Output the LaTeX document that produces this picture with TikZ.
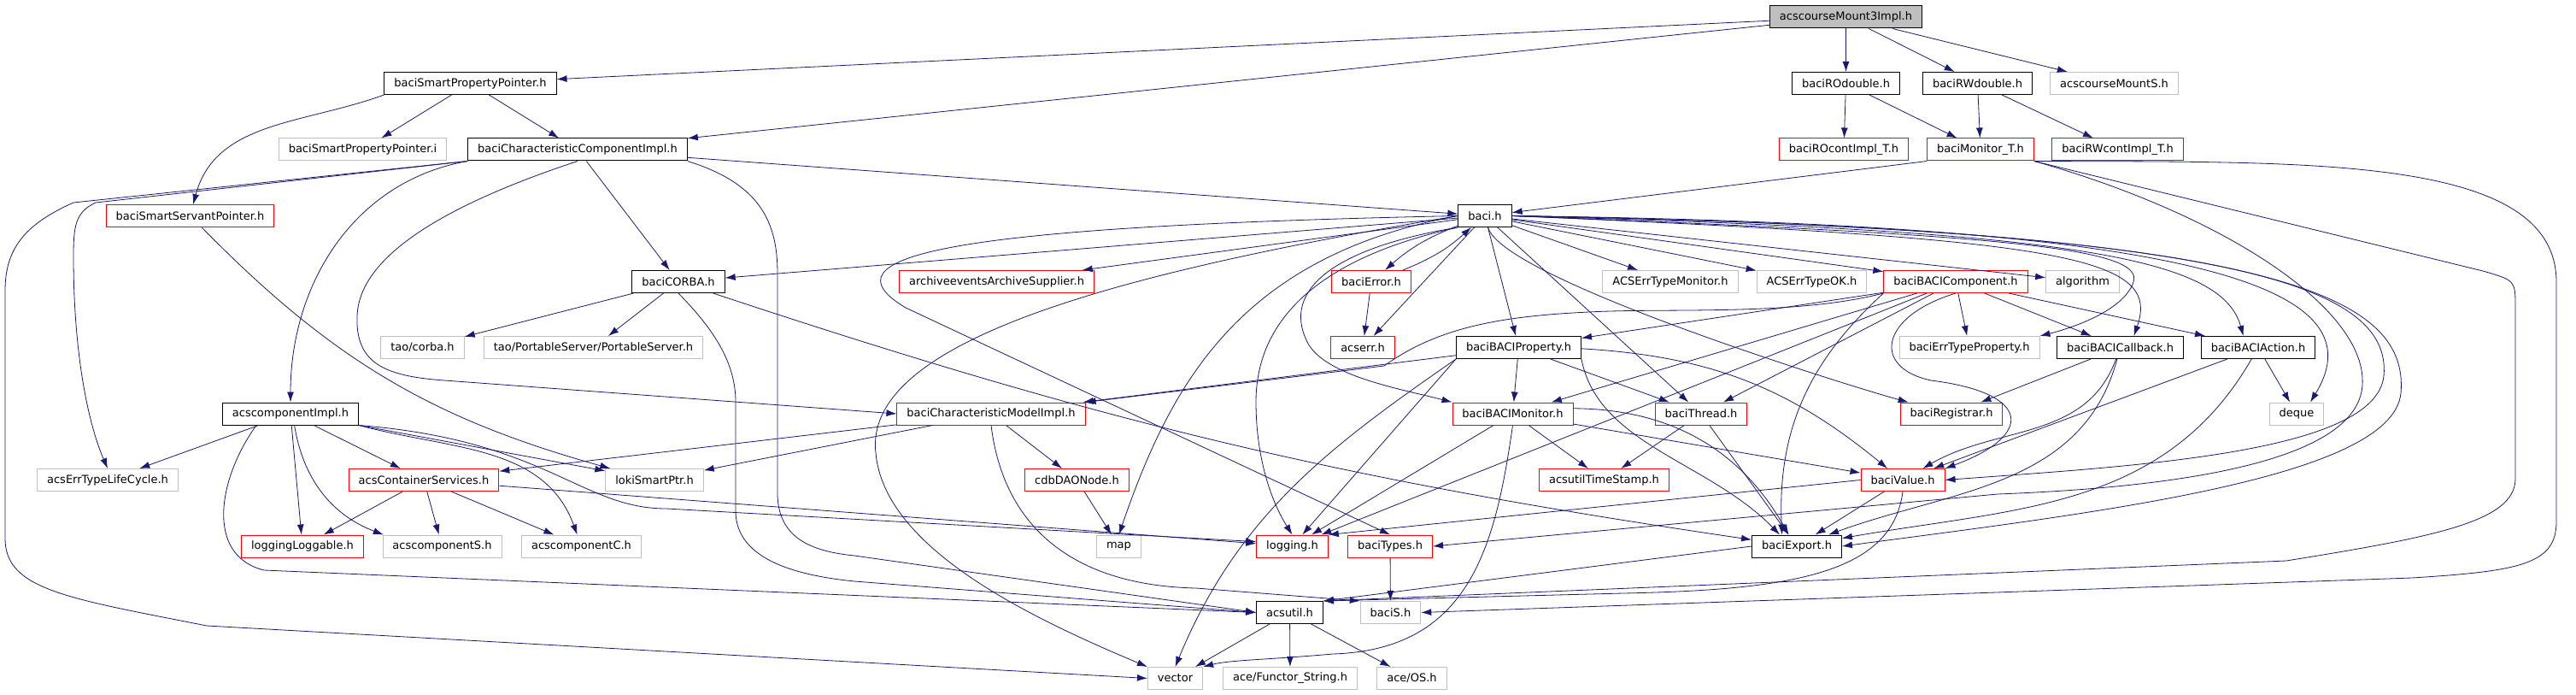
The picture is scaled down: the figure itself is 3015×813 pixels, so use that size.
\documentclass[tikz,border=0pt]{standalone}
\usepackage{fontspec}
\setmainfont{DejaVu Sans}
\usetikzlibrary{arrows.meta}
\definecolor{edgeblue}{HTML}{191970}
\definecolor{boxgrey}{HTML}{BFBFBF}

\begin{document}
\begin{tikzpicture}[x=0.75pt,y=0.75pt,->,>={Latex[length=9pt,width=6pt]},
  header/.style={rectangle,draw=black,line width=0.75pt,inner xsep=8.6pt,inner ysep=0pt,
    minimum height=19.5pt,font=\fontsize{9.75}{11}\selectfont},
  nodoc/.style={header,draw=red},
  extern/.style={header,draw=boxgrey},
  current/.style={header,fill=boxgrey},
  link/.style={draw=edgeblue,line width=0.6pt},
  every edge/.style={link}]
\useasboundingbox (0,0) rectangle (3015,-813);

\node[current] (mount3impl) at (2160.5,-20) {acscourseMount3Impl.h};
\node[header] (smartprop) at (550.5,-97.5) {baciSmartPropertyPointer.h};
\node[header] (rodouble) at (2160.5,-97.5) {baciROdouble.h};
\node[header] (rwdouble) at (2314.5,-97.5) {baciRWdouble.h};
\node[extern] (mounts) at (2474.5,-97.5) {acscourseMountS.h};
\node[extern] (smartpropi) at (424.5,-175) {baciSmartPropertyPointer.i};
\node[header] (charcomp) at (676,-175) {baciCharacteristicComponentImpl.h};
\node[nodoc] (rocont) at (2158,-175) {baciROcontImpl\_T.h};
\node[nodoc] (monitort) at (2318,-175) {baciMonitor\_T.h};
\node[nodoc] (rwcont) at (2478.5,-175) {baciRWcontImpl\_T.h};
\node[nodoc] (smartserv) at (222.5,-252.5) {baciSmartServantPointer.h};
\node[header] (baci) at (1738,-252.5) {baci.h};
\node[header] (corba) at (794,-329.5) {baciCORBA.h};
\node[nodoc] (archive) at (1166.5,-329.5) {archiveeventsArchiveSupplier.h};
\node[nodoc] (error) at (1605,-329.5) {baciError.h};
\node[extern] (errmon) at (1955,-329.5) {ACSErrTypeMonitor.h};
\node[extern] (errok) at (2120.5,-329.5) {ACSErrTypeOK.h};
\node[nodoc] (bacicomp) at (2289,-329.5) {baciBACIComponent.h};
\node[extern] (algorithm) at (2437.5,-329.5) {algorithm};
\node[extern] (taocorba) at (494.5,-406.5) {tao/corba.h};
\node[extern] (portserv) at (694.5,-406.5) {tao/PortableServer/PortableServer.h};
\node[nodoc] (acserr) at (1595,-406.5) {acserr.h};
\node[header] (baciprop) at (1777.5,-406.5) {baciBACIProperty.h};
\node[extern] (errprop) at (2305,-406.5) {baciErrTypeProperty.h};
\node[header] (callback) at (2481.5,-406.5) {baciBACICallback.h};
\node[header] (action) at (2643,-406.5) {baciBACIAction.h};
\node[header] (compimpl) at (340,-484) {acscomponentImpl.h};
\node[nodoc] (charmodel) at (1160,-484) {baciCharacteristicModelImpl.h};
\node[nodoc] (bacimon) at (1770.5,-484) {baciBACIMonitor.h};
\node[nodoc] (thread) at (1991,-484) {baciThread.h};
\node[nodoc] (registrar) at (2284,-484) {baciRegistrar.h};
\node[extern] (deque) at (2688,-484) {deque};
\node[extern] (lifecycle) at (126,-561.5) {acsErrTypeLifeCycle.h};
\node[nodoc] (contsvc) at (496,-561.5) {acsContainerServices.h};
\node[extern] (loki) at (766,-561.5) {lokiSmartPtr.h};
\node[nodoc] (daonode) at (1260.5,-561.5) {cdbDAONode.h};
\node[nodoc] (timestamp) at (1877.5,-561.5) {acsutilTimeStamp.h};
\node[nodoc] (value) at (2227,-561.5) {baciValue.h};
\node[nodoc] (loggable) at (354,-639) {loggingLoggable.h};
\node[extern] (compS) at (517.5,-639) {acscomponentS.h};
\node[extern] (compC) at (680.5,-639) {acscomponentC.h};
\node[extern] (map) at (1309.5,-639) {map};
\node[nodoc] (logging) at (1512.5,-639) {logging.h};
\node[nodoc] (types) at (1627,-639) {baciTypes.h};
\node[header] (export) at (2103,-639) {baciExport.h};
\node[header] (acsutil) at (1509.5,-716.5) {acsutil.h};
\node[extern] (bacis) at (1627.5,-716.5) {baciS.h};
\node[extern] (vector) at (1375.5,-793.5) {vector};
\node[extern] (functor) at (1510,-793.5) {ace/Functor\_String.h};
\node[extern] (aceos) at (1652.5,-793.5) {ace/OS.h};

% top rows
\path (mount3impl) edge (smartprop) edge (charcomp) edge (rodouble) edge (rwdouble) edge (mounts);
\path (smartprop) edge (smartpropi) edge (charcomp)
      (smartprop.south west) edge[out=200,in=75] (smartserv);
\path (smartserv) edge[bend right=15] (loki);
\path (rodouble) edge (rocont) edge (monitort);
\path (rwdouble) edge (monitort) edge (rwcont);
\path (monitort.south west) edge (baci);
\draw[link] (monitort.south east) .. controls (2700,-190) and (2992,-180) .. (2992,-330) -- (2992,-610)
  .. controls (2992,-660) and (2950,-668) .. (2823,-676) -- (bacis.east);
\draw[link] (monitort.south east) -- (2906,-317) .. controls (2944,-328) .. (2944,-360) -- (2944,-560)
  .. controls (2944,-610) and (2850,-628) .. (2676,-656) -- (acsutil.north east);
\draw[link] (monitort.south east) .. controls (2600,-250) and (2770,-360) .. (2765,-450)
  .. controls (2760,-540) and (2550,-570) .. (2338,-578) -- (types.east);

% baciCharacteristicComponentImpl.h
\path (charcomp) edge (baci) edge (corba)
      (charcomp.south west) edge[out=190,in=90] (compimpl);
\draw[link] (charcomp.south west) -- (86,-237) .. controls (30,-262) and (6,-290) .. (6,-340) -- (6,-630)
  .. controls (6,-690) and (80,-700) .. (242,-732) -- (vector.west);
\draw[link] (charcomp.south west) -- (112,-237) .. controls (88,-248) and (86,-265) .. (86,-300)
  .. controls (86,-420) and (105,-500) .. (lifecycle.north);
\draw[link] (charcomp.south) .. controls (520,-240) and (420,-300) .. (418,-370)
  .. controls (416,-425) and (450,-440) .. (520,-445) -- (charmodel.west);
\draw[link] (charcomp.south east) .. controls (890,-215) and (910,-260) .. (910,-320) -- (910,-580)
  .. controls (912,-630) and (950,-645) .. (1000,-650) -- (acsutil.west);

% baciCORBA.h
\path (corba) edge (taocorba) edge (portserv) edge[bend right=5] (export);
\draw[link] (corba.south) .. controls (830,-380) and (861,-420) .. (861,-470) -- (861,-600)
  .. controls (863,-650) and (920,-672) .. (1000,-680) -- (acsutil.west);

% acscomponentImpl.h
\path (compimpl) edge (lifecycle) edge (loggable) edge[bend right=30] (compS) edge (contsvc)
      (compimpl.south east) edge[out=-15,in=110] (compC) edge (loki);
\draw[link] ([xshift=-30pt]compimpl.south) .. controls (255,-560) and (240,-650) .. (309,-667) -- (acsutil.west);
\draw[link] (compimpl.south east) .. controls (640,-515) and (680,-595) .. (780,-595) -- ([yshift=4pt]logging.west);
\path (contsvc) edge (loggable) edge (compS) edge (compC) edge (logging);

% baciCharacteristicModelImpl.h
\path (charmodel) edge (contsvc) edge (loki) edge (daonode);
\draw[link] (charmodel.south) .. controls (1175,-620) and (1260,-685) .. (1400,-688) -- (bacis.north west);
\path (daonode) edge (map);

% baci.h
\path (baci) edge (corba) edge (archive) edge[bend right=10] (error) edge (acserr) edge (baciprop)
             edge (errmon) edge (errok) edge (bacicomp) edge (algorithm) edge (thread)
             edge[out=-75,in=165,looseness=0.3] (registrar);
\path (error) edge[bend right=10] (baci) edge (acserr);
\draw[link] (baci.east) .. controls (2350,-275) and (2510,-290) .. (2497,-330)
  .. controls (2485,-365) and (2420,-385) .. (errprop.north east);
\draw[link] (baci.east) .. controls (2420,-280) and (2530,-300) .. ([xshift=12pt]callback.north);
\draw[link] (baci.east) .. controls (2420,-270) and (2600,-300) .. ([xshift=-13pt]action.north);
\draw[link] (baci.east) .. controls (2550,-262) and (2790,-330) .. ([xshift=12pt]deque.north);
\draw[link] (baci.east) .. controls (2600,-268) and (2800,-330) .. (2790,-440)
  .. controls (2780,-530) and (2500,-545) .. (value.east);
\draw[link] (baci.east) .. controls (2650,-268) and (2820,-340) .. (2810,-460)
  .. controls (2800,-560) and (2450,-600) .. (export.east);
\draw[link] (baci.south west) .. controls (1560,-290) and (1500,-340) .. (1530,-400)
  .. controls (1550,-440) and (1640,-455) .. (bacimon.north west);
\draw[link] (baci.south west) .. controls (1550,-300) and (1470,-370) .. (1470,-470)
  .. controls (1470,-540) and (1490,-590) .. (logging.north);
\draw[link] (baci.west) .. controls (1450,-300) and (1370,-450) .. (map.north);
\draw[link] (baci.west) .. controls (1300,-320) and (1010,-400) .. (1025,-530)
  .. controls (1035,-640) and (1200,-720) .. (vector.north west);
\draw[link] (baci.west) .. controls (1100,-265) and (960,-300) .. (1060,-360) -- (types.north);

% baciBACIProperty.h
\path (baciprop) edge (charmodel) edge (bacimon) edge (thread) edge[bend left=18] (value)
      (baciprop.south west) edge (logging);
\draw[link] (baciprop.south west) .. controls (1560,-520) and (1450,-600) .. (vector.north);
\draw[link] (baciprop.south east) .. controls (1870,-520) and (2000,-540) .. ([xshift=-15pt]export.north);

% baciBACIComponent.h
\path (bacicomp) edge (errprop) edge (callback) edge (action) edge (thread) edge (bacimon)
                 edge (baciprop) edge (logging);
\draw[link] (bacicomp.south west) .. controls (2100,-370) and (1950,-360) .. (1860,-365)
  .. controls (1750,-370) and (1680,-385) .. (1620,-428) -- (charmodel.north east);
\draw[link] (bacicomp.south) .. controls (2200,-370) and (2190,-430) .. (2260,-445)
  .. controls (2380,-460) and (2380,-510) .. (value.north east);
\draw[link] (bacicomp.south west) .. controls (2120,-420) and (2080,-500) .. ([xshift=-13pt]export.north);

% callbacks, actions, monitors
\path (callback) edge (registrar) edge[out=250,in=30] (value) edge[out=255,in=20] (export);
\path (action) edge (deque) edge (value) edge[out=240,in=10] (export);
\path (thread) edge (timestamp) edge (export);
\path (bacimon) edge (timestamp) edge (value) edge (logging) edge[bend left=30] (export);
\draw[link] (bacimon.south) .. controls (1750,-640) and (1720,-760) .. (1560,-765)
  .. controls (1480,-772) and (1440,-772) .. (vector.north east);

% bottom rows
\path (value) edge (export)
      (value.west) edge (logging.north east);
\draw[link] (value.south) .. controls (2215,-670) and (2100,-690) .. (1900,-694) -- (acsutil.north east);
\path (types) edge (bacis);
\path (export.west) edge (acsutil.north east);
\path (acsutil) edge (vector) edge (functor) edge (aceos);
\end{tikzpicture}
\end{document}
